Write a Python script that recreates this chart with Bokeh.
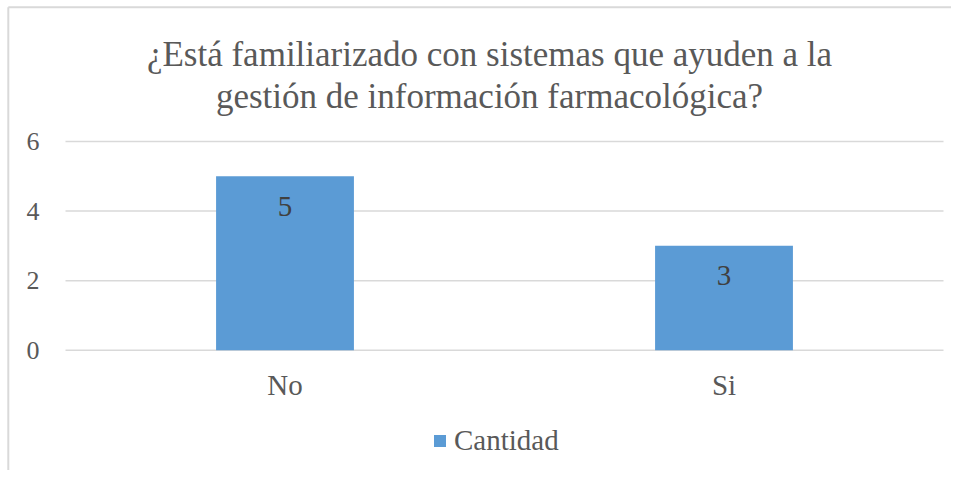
import numpy as np
from bokeh.plotting import figure
from bokeh.models import ColumnDataSource, Range1d, Legend, LegendItem
from bokeh.core.properties import value
from bokeh.embed import file_html
from bokeh.resources import INLINE

categories = ["No", "Si"]
cantidad = [5, 3]
y_ticks = [0, 2, 4, 6]
series_name = "Cantidad"
title_lines = ["¿Está familiarizado con sistemas que ayuden a la",
               "gestión de información farmacológica?"]

FONT_NAME = "Times New Roman"
FONT = value(FONT_NAME)
TXT = "#595959"
GRID = "#D9D9D9"

W, H = 951, 470
PX_X = 439.0      # pixels per category slot
PX_Y = 34.78      # pixels per unit of value
X0, Y0 = 65.0, 349.7   # pixel position of plot origin inside the canvas

def dx(px):
    return (px - X0) / PX_X

def dy(py):
    return (Y0 - py) / PX_Y

n = len(categories)
centers = [i + 0.5 for i in range(n)]

p = figure(x_range=Range1d(dx(0), dx(W)), y_range=Range1d(dy(H), dy(0)),
           width=W, height=H, output_backend="svg", toolbar_location=None,
           min_border=0, min_border_left=0, min_border_right=0,
           min_border_top=0, min_border_bottom=0)
p.axis.visible = False
p.grid.visible = False
p.outline_line_color = None
p.background_fill_color = "white"
p.border_fill_color = "white"

# chart box border (left and top)
p.line(x=[dx(7.8), dx(7.8)], y=[dy(H), dy(6.8)], line_color=GRID, line_width=2)
p.line(x=[dx(7.8), dx(W)], y=[dy(6.8), dy(6.8)], line_color=GRID, line_width=2)

# gridlines
p.segment(x0=[0] * len(y_ticks), x1=[n] * len(y_ticks), y0=y_ticks, y1=y_ticks,
          line_color=GRID, line_width=1.5)

# y tick labels
p.text(x=[dx(39)] * len(y_ticks), y=y_ticks, text=[str(t) for t in y_ticks],
       text_align="right", text_baseline="middle", text_font=FONT,
       text_font_size="26px", text_color=TXT)

# bars
src = ColumnDataSource(dict(x=centers, val=cantidad, label=[str(v) for v in cantidad]))
r = p.vbar(x="x", top="val", width=0.314, source=src, fill_color="#5B9BD5", line_color=None)
p.text(x="x", y="val", text="label", source=src, text_align="center",
       text_baseline="middle", y_offset=30, text_font=FONT,
       text_font_size="29px", text_color="#404040")

# category labels
p.text(x=centers, y=[dy(384)] * n, text=categories, text_align="center",
       text_baseline="middle", text_font=FONT, text_font_size="29px", text_color=TXT)

# title
p.text(x=[dx(489)] * 2, y=[dy(54), dy(96)], text=title_lines, text_align="center",
       text_baseline="middle", text_font=FONT, text_font_size="35px", text_color=TXT)

legend = Legend(items=[LegendItem(label=series_name, renderers=[r])], location=(432, 13),
                orientation="horizontal", border_line_color=None, background_fill_alpha=0,
                padding=0, margin=0, glyph_width=15, glyph_height=15, label_standoff=7,
                label_text_font=FONT_NAME, label_text_font_size="29px", label_text_color=TXT)
p.add_layout(legend)

open("out.html", "w").write(file_html(p, INLINE))
